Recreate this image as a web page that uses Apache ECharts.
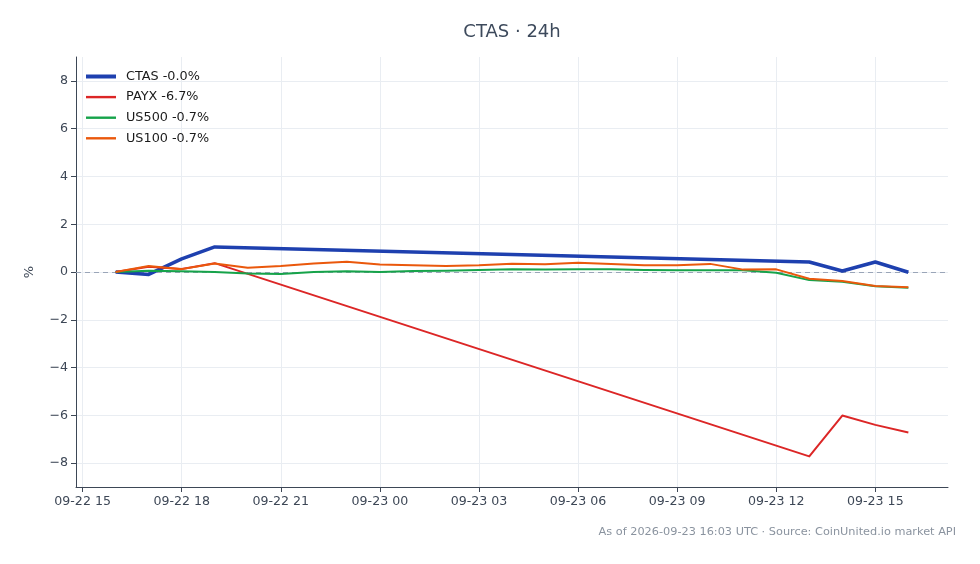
<!DOCTYPE html>
<html>
<head>
<meta charset="utf-8">
<script src="https://cdn.jsdelivr.net/npm/echarts@6/dist/echarts.min.js"></script>
<style>
  html, body { margin: 0; padding: 0; background: #fff; }
  #chart { width: 980px; height: 564px; }
</style>
</head>
<body>
<div id="chart"></div>
<script>
// hours since 2026-09-22 00:00 UTC
const stockHours = [16, 17, 18, 19, 37, 38, 39, 40];
const indexHours = [16, 17, 18, 19, 20, 21, 22, 23, 24, 25, 26, 27, 28, 29, 30, 31, 32, 33, 34, 35, 36, 37, 38, 39, 40];

const ctas = [0, -0.1, 0.55, 1.05, 0.42, 0.04, 0.42, -0.01];
const payx = [0, 0.22, 0.13, 0.37, -7.72, -6.01, -6.4, -6.72];
const us500 = [0, 0.05, 0.03, 0.0, -0.06, -0.08, 0.0, 0.03, 0.0, 0.04, 0.05, 0.08, 0.12, 0.1, 0.11, 0.12, 0.08, 0.07, 0.07, 0.07, -0.03, -0.34, -0.41, -0.6, -0.66];
const us100 = [0, 0.25, 0.12, 0.36, 0.18, 0.25, 0.36, 0.43, 0.31, 0.28, 0.25, 0.28, 0.35, 0.32, 0.39, 0.34, 0.28, 0.28, 0.34, 0.1, 0.11, -0.28, -0.38, -0.59, -0.64];

const xTicks = [15, 18, 21, 24, 27, 30, 33, 36, 39];
const yTicks = [-8, -6, -4, -2, 0, 2, 4, 6, 8];

const names = ["CTAS -0.0%", "PAYX -6.7%", "US500 -0.7%", "US100 -0.7%"];
const COL = ["#1e40af", "#dc2626", "#16a34a", "#ea580c"];
const WIDTH = [3.5, 2, 2, 2];

const pair = (xs, ys) => xs.map((x, i) => [x, ys[i]]);
const pad = (n) => (n < 10 ? "0" : "") + n;
const hourLabel = (h) => (h < 24 ? "09-22 " + pad(h) : "09-23 " + pad(h - 24));

const chart = echarts.init(document.getElementById("chart"));
const axisCol = "#3d4756";
const gridCol = "#e9edf2";
const FONT = "DejaVu Sans";

function line(i, xs, ys, z) {
  return {
    name: names[i], type: "line", data: pair(xs, ys), color: COL[i], z,
    symbol: "none", showSymbol: false, animation: false,
    lineStyle: { width: WIDTH[i], color: COL[i], join: "round" },
  };
}

const series = [
  line(0, stockHours, ctas, 3),
  line(1, stockHours, payx, 4),
  line(2, indexHours, us500, 5),
  line(3, indexHours, us100, 6),
];
// dashed zero reference
series[0].markLine = {
  silent: true, symbol: "none", label: { show: false }, z: 2,
  lineStyle: { type: [5, 4], color: "#9aa5b8", width: 1 },
  data: [{ yAxis: 0 }],
};

// legend icons: flat bars, thickness like the line they stand for
const legendData = names.map((n, i) => ({
  name: n,
  icon: i === 0 ? "path://M0,0H30V4H0Z" : "path://M0,0H30V2.4H0Z",
  itemStyle: { color: COL[i] },
}));

chart.setOption({
  backgroundColor: "#fff",
  textStyle: { fontFamily: FONT },
  animation: false,
  grid: { left: 76, right: 32, top: 57, bottom: 77, containLabel: false },
  legend: {
    orient: "vertical", left: 81, top: 65, itemWidth: 30, itemHeight: 14, itemGap: 7.6,
    symbolKeepAspect: true,
    textStyle: { fontSize: 12.8, color: "#1a1a1a", fontFamily: FONT, padding: [0, 0, 0, 5] },
    data: legendData,
  },
  xAxis: {
    type: "value", min: 14.8, max: 41.2,
    axisLine: { onZero: false, lineStyle: { color: axisCol, width: 1 } },
    axisTick: { show: true, customValues: xTicks, length: 5, lineStyle: { color: axisCol } },
    axisLabel: {
      customValues: xTicks, formatter: (v) => hourLabel(v),
      color: axisCol, fontSize: 12.6, margin: 8, fontFamily: FONT,
    },
    splitLine: { show: true, lineStyle: { color: gridCol, width: 1 } },
  },
  yAxis: {
    type: "value", min: -9, max: 9,
    name: "%", nameLocation: "middle", nameGap: 40, nameRotate: 90,
    nameTextStyle: { color: axisCol, fontSize: 13, fontFamily: FONT },
    axisLine: { show: true, onZero: false, lineStyle: { color: axisCol, width: 1 } },
    axisTick: { show: true, customValues: yTicks, length: 5, lineStyle: { color: axisCol } },
    axisLabel: {
      customValues: yTicks, formatter: (v) => (v < 0 ? "\u2212" + (-v) : String(v)),
      color: axisCol, fontSize: 12.6, margin: 8, fontFamily: FONT,
    },
    splitLine: { show: true, lineStyle: { color: gridCol, width: 1 } },
  },
  graphic: [
    {
      type: "text", x: 512, y: 32,
      style: {
        text: "CTAS · 24h", fill: "#3d4a5c", font: "18px 'DejaVu Sans'",
        align: "center", verticalAlign: "middle",
      },
    },
    {
      type: "text", right: 24, top: 527,
      style: {
        text: "As of 2026-09-23 16:03 UTC · Source: CoinUnited.io market API",
        fill: "#8a939f", font: "11.3px 'DejaVu Sans'",
      },
    },
  ],
  series,
});
</script>
</body>
</html>
